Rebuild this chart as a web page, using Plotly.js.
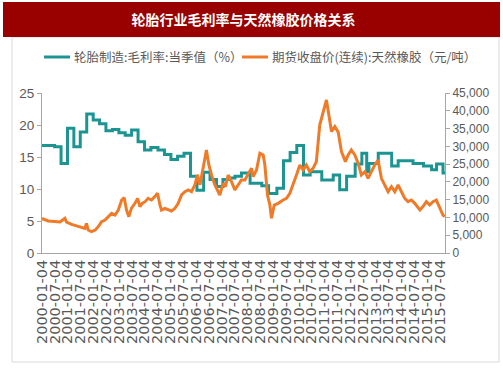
<!DOCTYPE html>
<html>
<head>
<meta charset="utf-8">
<script src="https://cdn.plot.ly/plotly-3.0.1.min.js"></script>
<style>
  html, body { margin: 0; padding: 0; background: #ffffff; }
  #chart { width: 503px; height: 378px; }
</style>
</head>
<body>
<div id="chart"></div>
<script>
// ---- Data ----
const chartTitle = '轮胎行业毛利率与天然橡胶价格关系';
const marginName = '轮胎制造:毛利率:当季值（%）';
const priceName = '期货收盘价(连续):天然橡胶（元/吨）';

// Gross margin (%), quarterly step values (date = start of step)
const marginDates = [
  '2000-01-04','2000-07-01','2000-10-01','2001-01-01','2001-04-01','2001-07-01','2001-10-01',
  '2002-01-01','2002-04-01','2002-07-01','2002-10-01','2003-01-01','2003-04-01','2003-07-01',
  '2003-10-01','2004-01-01','2004-04-01','2004-07-10','2004-10-10','2005-01-10','2005-04-15',
  '2005-07-15','2005-10-15','2006-01-15','2006-04-20','2006-07-20','2006-10-20','2007-01-20',
  '2007-04-20','2007-07-10','2007-10-10','2008-02-10','2008-07-25','2008-10-30','2009-02-25',
  '2009-05-30','2009-09-01','2009-12-05','2010-03-10','2010-06-13','2010-11-25','2011-05-07',
  '2011-08-07','2011-11-13','2012-03-14','2012-06-17','2012-08-25','2012-09-25','2013-02-05',
  '2013-08-15','2013-11-15','2014-06-15','2014-11-10','2015-03-05','2015-05-15','2015-08-15',
  '2015-09-12'
];
const marginValues = [
  16.8,16.6,14.0,19.5,16.6,18.9,21.7,
  20.8,20.2,19.1,19.3,18.8,18.4,19.2,
  17.4,16.1,16.5,16.1,15.4,14.6,15.1,
  15.6,12.0,9.8,12.6,11.5,10.4,11.5,
  11.7,12.0,12.5,10.9,10.5,9.3,10.1,
  14.4,15.7,16.8,12.2,12.7,11.4,12.2,
  9.9,12.0,13.9,15.6,12.7,14.0,15.6,
  13.6,14.4,14.0,13.6,13.0,13.9,12.5,
  12.5
];

// Natural rubber futures close (yuan/ton)
const priceDates = [
  '2000-01-04','2000-04-01','2000-07-05','2000-09-16','2000-11-25','2000-12-18','2001-03-01',
  '2001-06-02','2001-09-05','2001-09-27','2001-10-22','2001-12-08','2002-01-30','2002-03-14',
  '2002-05-01','2002-06-18','2002-08-04','2002-09-20','2002-11-07','2002-12-24','2003-02-10',
  '2003-03-18','2003-04-20','2003-05-23','2003-06-28','2003-08-18','2003-09-24','2003-10-27',
  '2003-11-29','2004-01-08','2004-02-21','2004-04-08','2004-05-26','2004-07-04','2004-08-07',
  '2004-08-29','2004-10-15','2004-12-02','2005-01-19','2005-03-08','2005-04-24','2005-06-10',
  '2005-07-28','2005-09-13','2005-10-30','2005-12-17','2006-01-22','2006-02-27','2006-04-12',
  '2006-05-30','2006-07-04','2006-08-10','2006-09-27','2006-11-13','2006-12-06','2007-01-22',
  '2007-02-24','2007-04-04','2007-05-22','2007-07-08','2007-08-24','2007-10-09','2007-11-27',
  '2008-01-14','2008-03-01','2008-03-25','2008-05-11','2008-06-28','2008-08-14','2008-09-07',
  '2008-10-14','2008-11-17','2008-12-10','2009-01-18','2009-03-15','2009-05-25','2009-07-11',
  '2009-08-28','2009-10-14','2009-11-30','2010-01-17','2010-03-04','2010-04-20','2010-06-07',
  '2010-07-24','2010-09-09','2010-10-27','2010-12-13','2011-01-30','2011-03-06','2011-04-12',
  '2011-05-30','2011-07-16','2011-09-01','2011-10-27','2011-12-05','2012-01-19','2012-03-09',
  '2012-04-25','2012-06-10','2012-07-30','2012-09-13','2012-10-30','2012-12-17','2013-02-03',
  '2013-03-22','2013-05-08','2013-06-25','2013-08-11','2013-09-28','2013-11-14','2014-01-01',
  '2014-02-17','2014-04-05','2014-05-22','2014-07-09','2014-09-20','2014-11-03','2014-12-21',
  '2015-02-06','2015-03-26','2015-05-12','2015-06-28','2015-08-14','2015-09-09'
];
const priceValues = [
  9700,9000,8830,8720,9760,8720,8060,
  7400,6940,8340,6470,6000,6470,7400,
  8810,9290,10220,11150,10690,12090,14900,
  15560,12090,10220,12560,13970,15370,13040,
  13970,14430,15370,14900,15840,16790,13500,
  12090,12560,12090,11810,12560,13970,16320,
  17250,17720,17250,19130,21940,19130,23810,
  28970,24750,21940,19130,17250,16320,19600,
  18660,21940,20060,17720,19130,20530,20530,
  22410,23810,21470,23340,28040,27560,24750,
  16320,13500,9760,13500,13970,14900,15370,
  16790,19130,21940,24750,23340,24750,22880,
  23810,25690,36000,39300,43030,38830,34140,
  35550,34000,28500,25690,27560,28970,27560,
  25220,21940,22880,21000,22880,24750,26160,
  21000,19130,17250,18660,17250,19130,17250,
  15370,14430,14900,13970,12090,13040,14430,
  13500,14430,14900,12560,10690,10220
];

// X-axis tick labels
const xTickLabels = [
  '2000-01-04','2000-07-04','2001-01-04','2001-07-04','2002-01-04','2002-07-04',
  '2003-01-04','2003-07-04','2004-01-04','2004-07-04','2005-01-04','2005-07-04',
  '2006-01-04','2006-07-04','2007-01-04','2007-07-04','2008-01-04','2008-07-04',
  '2009-01-04','2009-07-04','2010-01-04','2010-07-04','2011-01-04','2011-07-04',
  '2012-01-04','2012-07-04','2013-01-04','2013-07-04','2014-01-04','2014-07-04',
  '2015-01-04','2015-07-04'
];

// ---- Chart ----
const TEAL = '#1b9492';
const ORANGE = '#ef7b29';
const GREY_TXT = '#595959';
const AXIS = '#a6a6a6';
const cjk = '"Noto Sans CJK SC", "Noto Sans", sans-serif';

// plot area in pixels (for paper-coordinate decorations)
const PL = 42, PR = 445, PT = 93, PB = 253;
const px = v => (v - PL) / (PR - PL);
const py = v => (PB - v) / (PB - PT);

const traces = [
  {
    x: marginDates, y: marginValues, name: marginName,
    type: 'scatter', mode: 'lines',
    line: { color: TEAL, width: 3, shape: 'hv' },
    yaxis: 'y'
  },
  {
    x: priceDates, y: priceValues, name: priceName,
    type: 'scatter', mode: 'lines',
    line: { color: ORANGE, width: 3 },
    yaxis: 'y2'
  }
];

const legendY = py(57);
const layout = {
  width: 503, height: 378,
  margin: { l: PL, r: 503 - PR, t: PT, b: 378 - PB, pad: 0 },
  paper_bgcolor: '#ffffff', plot_bgcolor: '#ffffff',
  showlegend: false,
  title: {
    text: '<b>' + chartTitle + '</b>',
    font: { family: cjk, size: 14, color: '#ffffff' },
    x: 0.5, xref: 'paper', xanchor: 'center',
    y: 1 - 20 / 378, yref: 'container', yanchor: 'middle'
  },
  xaxis: {
    type: 'date',
    range: ['2000-01-04', '2015-09-12'],
    tickmode: 'array',
    tickvals: xTickLabels,
    ticktext: xTickLabels,
    tickangle: -90,
    tickfont: { family: 'DejaVu Sans, sans-serif', size: 14.5, color: GREY_TXT },
    showline: true, linecolor: AXIS, linewidth: 1,
    showgrid: false, zeroline: false, ticks: '',
    fixedrange: true
  },
  yaxis: {
    range: [0, 25], dtick: 5, tick0: 0,
    tickfont: { family: 'Liberation Sans, Arial, sans-serif', size: 13.5, color: GREY_TXT },
    showline: true, linecolor: AXIS, linewidth: 1,
    ticks: 'outside', ticklen: 4, tickcolor: AXIS,
    showgrid: false, zeroline: false,
    fixedrange: true
  },
  yaxis2: {
    overlaying: 'y', side: 'right',
    range: [0, 45000], dtick: 5000, tick0: 0,
    tickformat: ',d',
    tickfont: { family: 'Liberation Sans, Arial, sans-serif', size: 12, color: GREY_TXT },
    showline: true, linecolor: AXIS, linewidth: 1,
    ticks: 'outside', ticklen: 4, tickcolor: AXIS,
    showgrid: false, zeroline: false,
    fixedrange: true
  },
  shapes: [
    { // outer frame
      type: 'rect', xref: 'paper', yref: 'paper', layer: 'below',
      x0: px(12), x1: px(499), y0: py(362), y1: py(37),
      line: { color: '#d9d9d9', width: 1 }, fillcolor: 'rgba(0,0,0,0)'
    },
    { // title bar
      type: 'rect', xref: 'paper', yref: 'paper', layer: 'below',
      x0: px(3), x1: px(500), y0: py(37), y1: py(2),
      line: { width: 0 }, fillcolor: '#990000'
    },
    { // legend sample: margin
      type: 'line', xref: 'paper', yref: 'paper',
      x0: px(44), x1: px(70), y0: legendY, y1: legendY,
      line: { color: TEAL, width: 3 }
    },
    { // legend sample: price
      type: 'line', xref: 'paper', yref: 'paper',
      x0: px(242), x1: px(268), y0: legendY, y1: legendY,
      line: { color: ORANGE, width: 3 }
    }
  ],
  annotations: [
    {
      text: marginName, xref: 'paper', yref: 'paper',
      x: px(72), y: legendY, xanchor: 'left', yanchor: 'middle',
      showarrow: false, font: { family: cjk, size: 12.5, color: GREY_TXT }
    },
    {
      text: priceName, xref: 'paper', yref: 'paper',
      x: px(270), y: legendY, xanchor: 'left', yanchor: 'middle',
      showarrow: false, font: { family: cjk, size: 12.5, color: GREY_TXT }
    }
  ]
};

Plotly.newPlot('chart', traces, layout, { staticPlot: true, displayModeBar: false });
</script>
</body>
</html>
